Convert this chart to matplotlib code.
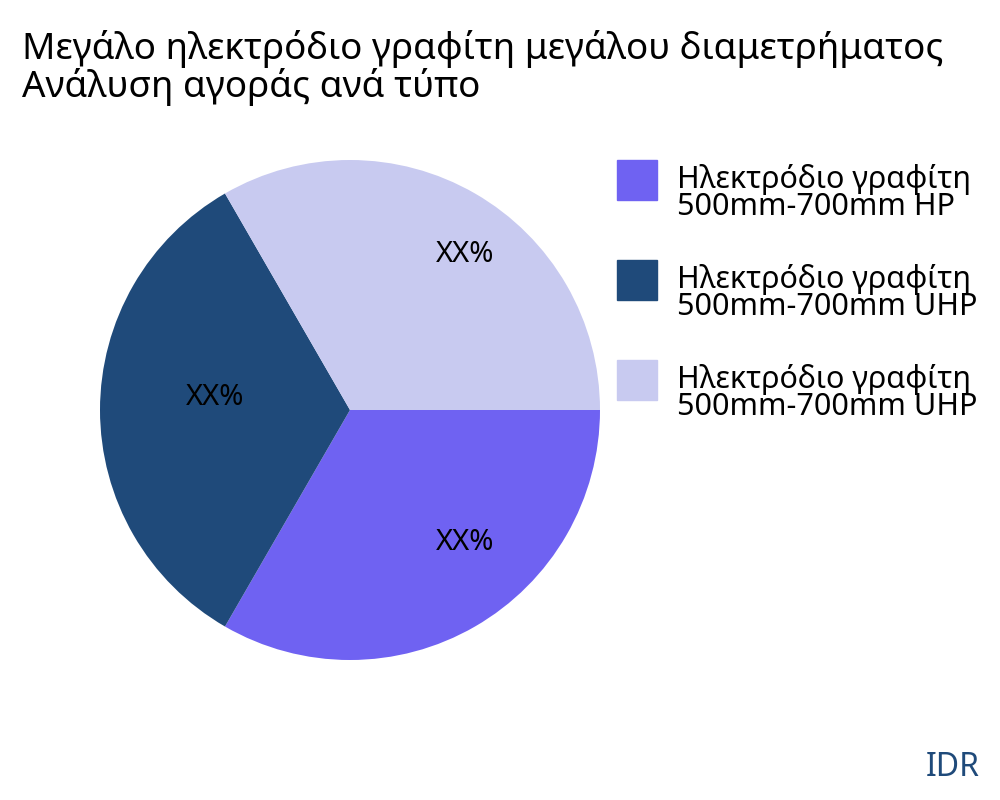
import matplotlib
matplotlib.use("Agg")
import matplotlib.pyplot as plt
from matplotlib.patches import Rectangle

plt.rcParams['font.family'] = ['Noto Sans', 'DejaVu Sans']

categories = ["Ηλεκτρόδιο γραφίτη\n500mm-700mm HP",
              "Ηλεκτρόδιο γραφίτη\n500mm-700mm UHP",
              "Ηλεκτρόδιο γραφίτη\n500mm-700mm UHP"]
values = [1, 1, 1]
pct_labels = ["XX%", "XX%", "XX%"]
colors = ["#6f62f2", "#1f4a7a", "#c8caf0"]

fig = plt.figure(figsize=(10, 8), dpi=100)
ax = fig.add_axes([0.1, 0.175, 0.5, 0.625])
ax.pie(values, colors=colors, startangle=0, counterclock=False, radius=1)
ax.set_xlim(-1, 1); ax.set_ylim(-1, 1); ax.set_aspect('equal')
label_pos = [(0.46, -0.53), (-0.54, 0.05), (0.46, 0.62)]
for (x, y), t in zip(label_pos, pct_labels):
    ax.text(x, y, t, ha='center', va='center', fontsize=21, color='black')

fig.text(0.022, 0.915, "Μεγάλο ηλεκτρόδιο γραφίτη μεγάλου διαμετρήματος\nΑνάλυση αγοράς ανά τύπο",
         ha='left', va='center', fontsize=26.5, linespacing=1.0)

tops = [160, 260, 360]
for top, lab, c in zip(tops, categories, colors):
    fig.patches.append(Rectangle((617/1000, 1 - (top+40)/800), 40/1000, 40/800,
                                 transform=fig.transFigure, color=c))
    fig.text(677/1000, 1 - (top+33)/800, lab, ha='left', va='center',
             fontsize=22, linespacing=0.85)

fig.text(0.98, 0.04, "IDR", ha='right', va='center', fontsize=23, color="#1f4a7a")
fig.savefig("out.png", dpi=100)
